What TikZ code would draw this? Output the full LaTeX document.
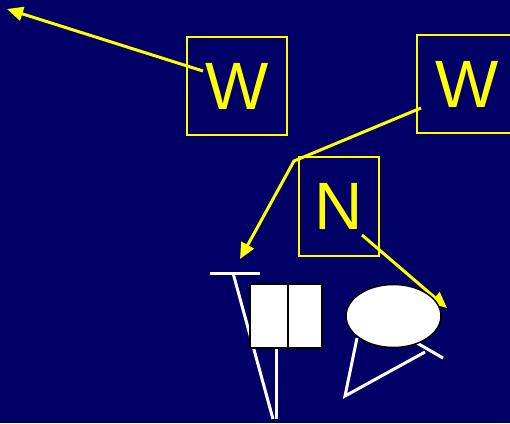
\documentclass[tikz,border=0pt]{standalone}
\usepackage{fontspec}
\setmainfont{Liberation Sans}
\usetikzlibrary{arrows.meta,positioning,calc}
\definecolor{navy}{RGB}{0,0,102}
\definecolor{signyellow}{RGB}{255,255,0}

\begin{document}
\begin{tikzpicture}[>={Triangle[length=16pt,width=14pt]},x=1pt,y=-1pt,
  letterbox/.style={draw=signyellow,line width=1.8pt,text=signyellow,inner sep=0pt,
    font=\fontsize{67}{67}\selectfont},
  pointer/.style={->,draw=signyellow,line width=3pt},
  wire/.style={draw=white,line width=3pt}]
  \fill[navy] (0,0) rectangle (510,423);
  \useasboundingbox (0,0) rectangle (510,423);
  % the three letter boxes
  \node[letterbox,minimum width=100pt,minimum height=98pt] (wl) at (237,86) {W};
  \node[letterbox,minimum width=100pt,minimum height=98pt] (wr) at (467,84) {W};
  \node[letterbox,minimum width=80pt,minimum height=99pt] (n) at (339,206.5) {N};
  % free ends of the arrows
  \coordinate (wltail) at (203,71);
  \coordinate (corner) at (7,9);
  \coordinate (wrtail) at (421,108);
  \coordinate (bend) at (294,161);
  \coordinate (tabletop) at (240,259);
  \coordinate (ntail) at (362,235);
  \coordinate (bowl) at (447,308);
  \draw[pointer] (wltail) -- (corner);
  \draw[pointer] (wrtail) -- (bend) -- (tabletop);
  \draw[pointer] (ntail) -- (bowl);
  % table and stool
  \draw[wire] (210,273) -- (260,273);
  \draw[wire] (233,273) -- (273,419);
  \draw[wire] (276,347) -- (276,419);
  \draw[fill=white,draw=black,line width=1.5pt] (250,284) rectangle (322,348);
  \draw[black,line width=1.5pt] (288,284) -- (288,350);
  \draw[wire] (357,338) -- (345,396) -- (425,352);
  \draw[wire] (417,343) -- (443,358);
  \draw[fill=white,draw=black,line width=1.5pt] (393.5,316) ellipse (47.5pt and 31.5pt);
\end{tikzpicture}
\end{document}
